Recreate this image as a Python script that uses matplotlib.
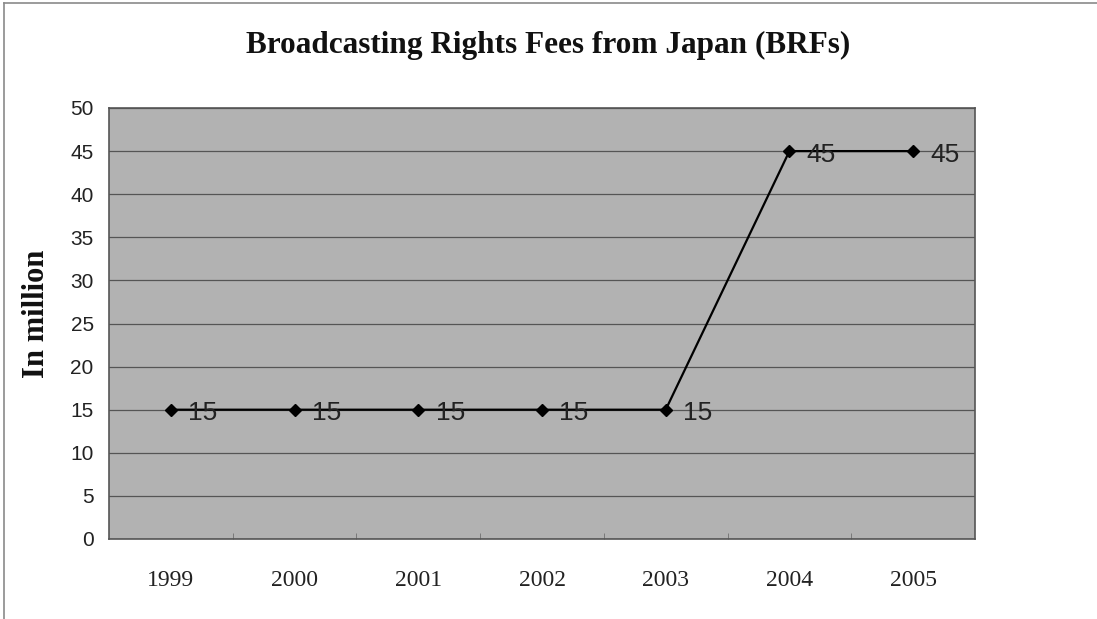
import matplotlib
matplotlib.use("Agg")
import matplotlib.pyplot as plt

years = ["1999", "2000", "2001", "2002", "2003", "2004", "2005"]
fees = [15, 15, 15, 15, 15, 45, 45]
yticks = [0, 5, 10, 15, 20, 25, 30, 35, 40, 45, 50]

W, H = 1097, 619
fig = plt.figure(figsize=(W / 100, H / 100), dpi=100)
fig.patch.set_facecolor("white")

# figure border (left and top visible)
fig.add_artist(plt.Line2D([4 / W, 4 / W], [0, 1 - 3 / H], color="#8a8a8a", lw=1.2))
fig.add_artist(plt.Line2D([4 / W, 1], [1 - 3 / H, 1 - 3 / H], color="#8a8a8a", lw=1.2))

left, right, top, bottom = 109, 975, 108, 539
ax = fig.add_axes([left / W, 1 - bottom / H, (right - left) / W, (bottom - top) / H])
ax.set_facecolor("#b2b2b2")

x = list(range(len(years)))
ax.plot(x, fees, color="black", lw=1.6, marker="D", markersize=6.5,
        markerfacecolor="black", markeredgecolor="black", zorder=3)
for xi, v in zip(x, fees):
    ax.text(xi + 0.14, v - 0.4, str(v), fontsize=19, family="Liberation Sans",
            color="#222222", ha="left", va="center", zorder=4)

ax.set_xlim(-0.5, len(years) - 0.5)
ax.set_ylim(0, 50)
ax.set_yticks(yticks)
ax.set_yticklabels([str(t) for t in yticks], fontsize=15, family="Liberation Sans", color="#222222")
ax.set_xticks(x)
ax.set_xticklabels(years, fontsize=17, family="Liberation Serif", color="#222222")
ax.tick_params(axis="y", length=0, pad=11)
ax.tick_params(axis="x", length=0, pad=22)
# small boundary ticks on the x-axis
ax.set_xticks([i + 0.5 for i in range(len(years) - 1)], minor=True)
ax.tick_params(axis="x", which="minor", direction="in", length=4, color="#707070")

ax.grid(axis="y", color="#555555", lw=0.9)
ax.set_axisbelow(True)
for s in ax.spines.values():
    s.set_color("#555555")
    s.set_linewidth(1.2)

fig.text(548 / W, 1 - 45 / H, "Broadcasting Rights Fees from Japan (BRFs)",
         fontsize=22.5, family="Liberation Serif", fontweight="bold",
         ha="center", va="center", color="#111111")
fig.text(37 / W, 1 - 314 / H, "In million", fontsize=22, family="Liberation Serif",
         fontweight="bold", rotation=90, ha="center", va="center", color="#111111")

fig.savefig("out.png", dpi=100)
